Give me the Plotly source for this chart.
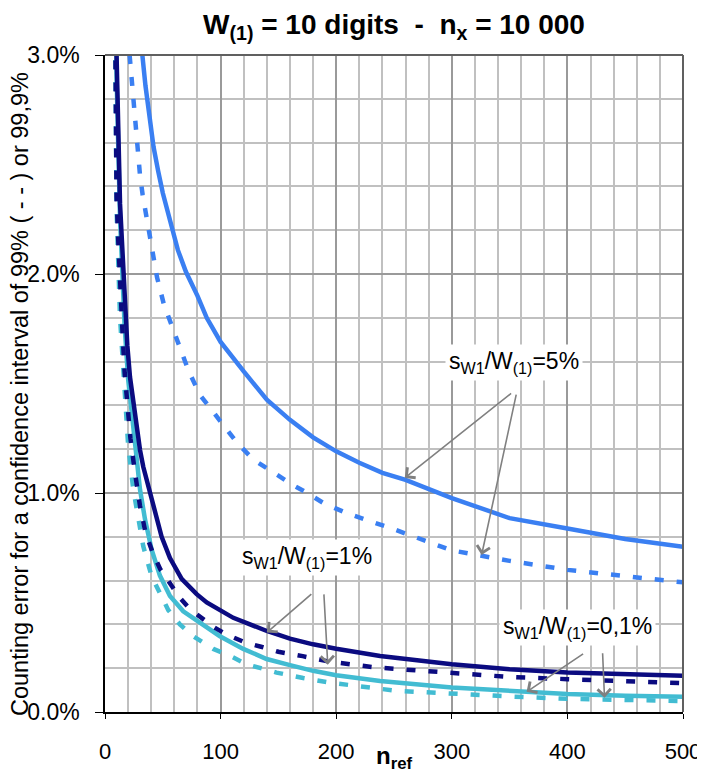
import plotly.graph_objects as go

# ---------------- data (n_ref, counting error in %) ----------------
# s_W1/W(1) = 5 %  (99.9 % solid, 99 % dashed)
n_s5 = [25, 30, 35, 38, 42, 46, 50, 58, 63, 70, 80, 88, 100, 120, 140, 160, 180, 200,
        220, 240, 260, 300, 350, 400, 450, 500]
e_s5 = [3.45, 3.12, 2.86, 2.75, 2.58, 2.47, 2.37, 2.21, 2.11, 2.01, 1.90, 1.80, 1.69, 1.555,
        1.426, 1.334, 1.254, 1.19, 1.138, 1.092, 1.06, 0.977, 0.885, 0.838, 0.79, 0.754]
n_d5 = [18, 21.6, 23, 24.5, 27.4, 28.8, 30.3, 32.6, 35.2, 37.5, 40.3, 42.4, 45, 51, 57, 63,
        72, 82, 92, 103, 114, 128, 146, 162, 175, 189, 209, 230, 250, 300, 350, 400, 450, 500]
e_d5 = [3.2, 2.97, 2.88, 2.80, 2.61, 2.55, 2.45, 2.36, 2.28, 2.20, 2.11, 2.04, 1.985, 1.86,
        1.777, 1.68, 1.562, 1.449, 1.38, 1.305, 1.231, 1.154, 1.092, 1.038, 1.0, 0.954, 0.908,
        0.872, 0.834, 0.738, 0.69, 0.649, 0.618, 0.592]

# s_W1/W(1) = 1 %
n_s1 = [1, 10, 13, 17.3, 19.3, 21.6, 24.5, 27.4, 30.3, 33.1, 36, 38.9, 43.2, 49, 56.2, 66.3,
        79.3, 88, 111, 140, 160, 180, 200, 238, 300, 350, 400, 450, 500]
e_s1 = [9.5, 3.0, 2.32, 1.83, 1.675, 1.53, 1.41, 1.30, 1.196, 1.12, 1.06, 1.0, 0.908, 0.80,
        0.703, 0.608, 0.538, 0.50, 0.43, 0.37, 0.335, 0.309, 0.289, 0.256, 0.218, 0.195, 0.18,
        0.173, 0.165]
n_d1 = [1, 10, 11.5, 13, 15, 17, 19.5, 22, 26, 28.2, 30.3, 35, 41.8, 48, 54.8, 65, 73.5, 82,
        94, 105, 121, 135, 150, 171, 194, 235, 300, 350, 400, 450, 500]
e_d1 = [8.5, 2.35, 2.15, 1.95, 1.75, 1.55, 1.38, 1.25, 1.09, 1.01, 0.94, 0.82, 0.72, 0.65,
        0.60, 0.52, 0.47, 0.437, 0.388, 0.354, 0.318, 0.298, 0.275, 0.255, 0.23, 0.203, 0.178,
        0.16, 0.15, 0.142, 0.132]

# s_W1/W(1) = 0,1 %
n_s01 = [1, 10, 13, 17, 20, 24.5, 30.3, 34.6, 40.3, 47.5, 56.2, 67.7, 82, 99.4, 119.6, 139.8,
         160, 180, 200, 238, 300, 350, 400, 450, 500]
e_s01 = [9.0, 2.9, 2.25, 1.76, 1.52, 1.28, 1.015, 0.88, 0.742, 0.623, 0.53, 0.46, 0.408, 0.346,
         0.288, 0.242, 0.214, 0.188, 0.168, 0.142, 0.112, 0.097, 0.082, 0.074, 0.07]
n_d01 = [1, 10, 13, 17, 20, 24.5, 28.8, 33.1, 40.3, 47.5, 54.8, 64.8, 76.4, 93.7, 108, 122.5,
         148.4, 171.4, 194.5, 252, 300, 350, 400, 450, 500]
e_d01 = [8.0, 2.3, 1.8, 1.42, 1.22, 1.015, 0.877, 0.757, 0.62, 0.54, 0.465, 0.40, 0.346, 0.288,
         0.257, 0.218, 0.18, 0.155, 0.134, 0.097, 0.082, 0.071, 0.06, 0.056, 0.05]

x_ticks = [0, 100, 200, 300, 400, 500]
y_ticks = [0, 1, 2, 3]

title_text = "<b>W<sub>(1)</sub> = 10 digits \u00a0-\u00a0 n<sub>x</sub> = 10 000</b>"
ytitle_text = "Counting error for a confidence interval of 99% ( - - ) or 99,9%"
xtitle_text = "<b>n<sub>ref</sub></b>"
lab5 = "s<sub>W1</sub>/W<sub>(1)</sub>=5%"
lab1 = "s<sub>W1</sub>/W<sub>(1)</sub>=1%"
lab01 = "s<sub>W1</sub>/W<sub>(1)</sub>=0,1%"

LIGHT = "#3a7ff2"
NAVY = "#0b0b80"
CYAN = "#42bcd2"
FONT = "Liberation Sans, Arial, sans-serif"
DASH = "9px,13px"
LW = 4.5

# page has an 8px body margin: figure is 697x766 placed at (8, 8)
W, H = 697, 766
PL, PT, PR, PB = 105 - 8, 55 - 8, 683 - 8, 712 - 8   # plot-area edges in figure pixels
PW, PH = PR - PL, PB - PT

fig = go.Figure()
series = [
    (n_d01, e_d01, CYAN, DASH), (n_s01, e_s01, CYAN, "solid"),
    (n_d1, e_d1, NAVY, DASH), (n_s1, e_s1, NAVY, "solid"),
    (n_d5, e_d5, LIGHT, DASH), (n_s5, e_s5, LIGHT, "solid"),
]
for xs, ys, col, dash in series:
    fig.add_trace(go.Scatter(x=xs, y=ys, mode="lines",
                             line=dict(color=col, width=LW, dash=dash),
                             showlegend=False, hoverinfo="skip"))

fig.update_layout(
    width=W, height=H,
    margin=dict(l=PL, r=W - PR, t=PT, b=H - PB, autoexpand=False),
    paper_bgcolor="white", plot_bgcolor="white",
    font=dict(family=FONT, size=22, color="black"),
    title=dict(text=title_text, x=0.5, xref="paper", xanchor="center",
               y=1 - (24 - 8) / H, yref="container", yanchor="middle", automargin=False,
               font=dict(size=28, family=FONT, color="black")),
    showlegend=False,
)
fig.update_xaxes(range=[0, 500], tickvals=x_ticks, ticktext=[str(v) for v in x_ticks],
                 showgrid=True, gridcolor="#9a9a9a", gridwidth=2,
                 minor=dict(dtick=20, tick0=0, showgrid=True, gridcolor="#c0c0c0", gridwidth=1.5),
                 showline=True, linecolor="black", linewidth=1.5, automargin=False,
                 ticks="outside", ticklen=5, tickcolor="black", ticklabelstandoff=14,
                 zeroline=False, tickfont=dict(size=22))
fig.update_yaxes(range=[0, 3], tickvals=y_ticks, ticktext=["%.1f%%" % v for v in y_ticks],
                 showgrid=True, gridcolor="#9a9a9a", gridwidth=2,
                 minor=dict(dtick=0.2, tick0=0, showgrid=True, gridcolor="#c0c0c0", gridwidth=1.5),
                 showline=True, linecolor="black", linewidth=1.5, automargin=False,
                 ticks="outside", ticklen=8, tickcolor="black", ticklabelstandoff=11,
                 zeroline=False, tickfont=dict(size=23))

# frame top/right
fig.add_shape(type="line", xref="paper", yref="paper", x0=0, x1=1, y0=1, y1=1,
              line=dict(color="#606060", width=2))
fig.add_shape(type="line", xref="paper", yref="paper", x0=1, x1=1, y0=0, y1=1,
              line=dict(color="#606060", width=2))

# axis titles
fig.add_annotation(text=ytitle_text, xref="paper", yref="paper", x=(20 - 105) / PW, y=0.484,
                   textangle=-90, showarrow=False, font=dict(size=23.5, family=FONT),
                   xanchor="center", yanchor="middle")
fig.add_annotation(text=xtitle_text, xref="paper", yref="paper", x=0.5, y=-(758 - 712) / PH,
                   showarrow=False, font=dict(size=24, family=FONT),
                   xanchor="center", yanchor="middle")

# arrows (tail -> head), data coords
arrows = [
    (352.6, 1.46, 259.3, 1.069), (356.0, 1.456, 325.8, 0.717),
    (179.8, 0.544, 140.0, 0.363), (189.3, 0.544, 192.7, 0.216),
    (414.9, 0.270, 364.7, 0.092), (430.4, 0.275, 432.1, 0.065),
]
for ax_, ay_, x_, y_ in arrows:
    fig.add_annotation(x=x_, y=y_, ax=ax_, ay=ay_, xref="x", yref="y", axref="x", ayref="y",
                       text="", showarrow=True, arrowhead=4, arrowsize=1.6, arrowwidth=1.6,
                       arrowcolor="#808080", standoff=0, startstandoff=0)

# labels
for txt, lx, ly in [(lab5, 354, 1.597), (lab1, 174.6, 0.704), (lab01, 408.8, 0.384)]:
    fig.add_annotation(text=txt, x=lx, y=ly, xref="x", yref="y", showarrow=False,
                       bgcolor="white", borderpad=3, font=dict(size=23, family=FONT),
                       xanchor="center", yanchor="middle")

fig.write_html("out.html")
